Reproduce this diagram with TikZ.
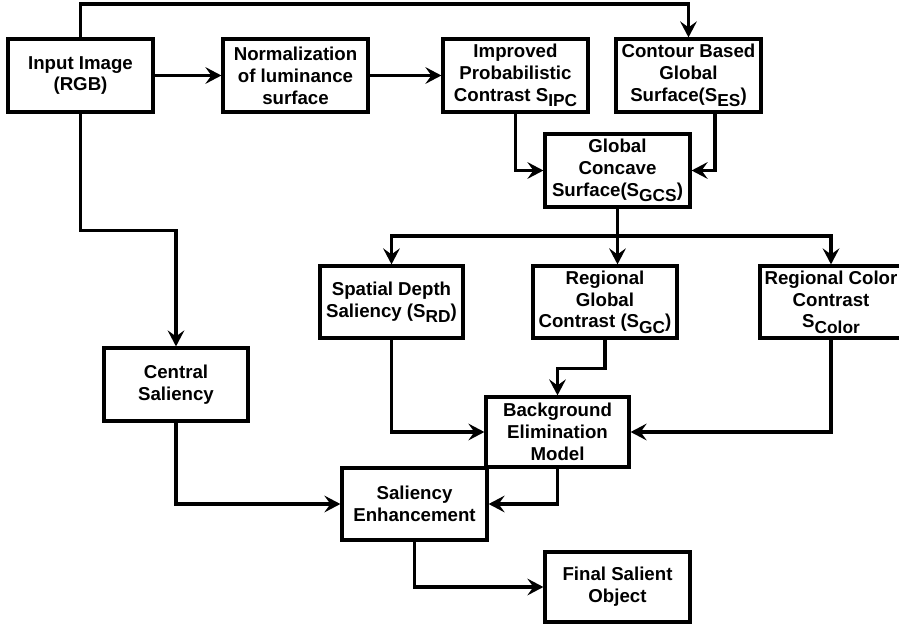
\documentclass[tikz,border=0pt]{standalone}
\usepackage{fontspec}
\setmainfont{Liberation Sans}
\usetikzlibrary{arrows.meta,shadows,calc}
\newcommand{\subx}[1]{\raisebox{-4pt}{\fontsize{13pt}{13pt}\selectfont #1}}
\begin{document}
\begin{tikzpicture}[x=0.75pt,y=-0.75pt,
  box/.style={draw, line width=2.4pt, fill=white, align=center, inner sep=0pt,
    font=\bfseries\fontsize{14pt}{16.4pt}\selectfont,
    drop shadow={shadow xshift=1.6pt, shadow yshift=-1.6pt, opacity=0.3, fill=blue!15!black!45}},
  sz/.style 2 args={minimum width=#1*0.75pt, minimum height=#2*0.75pt},
  arr/.style={line width=2.4pt, -{Stealth[length=12pt,width=12.5pt,inset=4.5pt]}}]
\useasboundingbox (0,0) rectangle (899,628);
% nodes
\node[box, sz={145}{73}] (inp) at (80.5,75.5) {Input Image\\(RGB)};
\node[box, sz={145}{73}] (norm) at (295.5,75.5) {Normalization\\of luminance\\surface};
\node[box, sz={145}{73}] (ipc) at (515.5,75.5) {Improved\\Probabilistic\\Contrast S\subx{IPC}};
\node[box, sz={145}{73}] (ces) at (688.5,75.5) {Contour Based\\Global\\Surface(S\subx{ES})};
\node[box, sz={145}{73}] (gcs) at (617.5,170.5) {Global\\Concave\\Surface(S\subx{GCS})};
\node[box, sz={143}{72}] (srd) at (391.5,302) {Spatial Depth\\Saliency (S\subx{RD})};
\node[box, sz={144}{72}] (sgc) at (605,302) {Regional\\Global\\Contrast (S\subx{GC})};
\node[box, sz={142}{72}] (scol) at (831,302) {Regional Color\\Contrast\\S\subx{Color}};
\node[box, sz={144}{73}] (cen) at (176,384.5) {Central\\Saliency};
\node[box, sz={143}{70}] (bem) at (557.5,432) {Background\\Elimination\\Model};
\node[box, sz={145}{72}] (sen) at (414.5,504) {Saliency\\Enhancement};
\node[box, sz={145}{70}] (fin) at (617.5,587) {Final Salient\\Object};
\coordinate (topy) at (0,4);
\coordinate (bry) at (0,236);
% connectors
\draw[arr] (inp.north) |- (ces.north |- topy) -- (ces.north);
\draw[arr] (inp.east) -- (norm.west);
\draw[arr] (norm.east) -- (ipc.west);
\draw[arr] (ipc.south) |- (gcs.west);
\draw[arr] ($(ces.south)+(26.5,0)$) |- (gcs.east);
\draw[arr] (gcs.south) |- (srd.north |- bry) -- (srd.north);
\draw[arr] (gcs.south) |- (scol.north |- bry) -- (scol.north);
\draw[arr] (gcs.south) -- (gcs.south |- sgc.north);
\draw[arr] (srd.south) |- (bem.west);
\draw[arr] (sgc.south) -- ++(0,29) -| (bem.north);
\draw[arr] (scol.south) |- (bem.east);
\draw[arr] (inp.south) -- ++(0,117) -| (cen.north);
\draw[arr] (cen.south) |- (sen.west);
\draw[arr] (bem.south) |- (sen.east);
\draw[arr] (sen.south) |- (fin.west);
\end{tikzpicture}
\end{document}
